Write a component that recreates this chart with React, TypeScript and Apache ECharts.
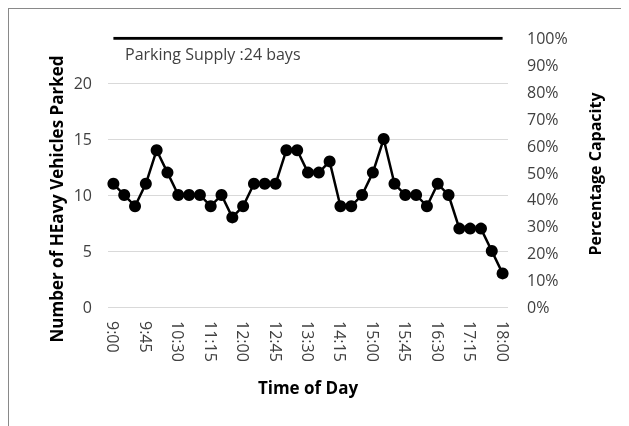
import React, { useEffect, useRef } from "react";
import * as echarts from "echarts";

const times = [
  "9:00", "9:15", "9:30", "9:45", "10:00", "10:15", "10:30", "10:45", "11:00", "11:15",
  "11:30", "11:45", "12:00", "12:15", "12:30", "12:45", "13:00", "13:15", "13:30", "13:45",
  "14:00", "14:15", "14:30", "14:45", "15:00", "15:15", "15:30", "15:45", "16:00", "16:15",
  "16:30", "16:45", "17:00", "17:15", "17:30", "17:45", "18:00",
];
const vehiclesParked = [
  11, 10, 9, 11, 14, 12, 10, 10, 10, 9,
  10, 8, 9, 11, 11, 11, 14, 14, 12, 12,
  13, 9, 9, 10, 12, 15, 11, 10, 10, 9,
  11, 10, 7, 7, 7, 5, 3,
];
const PARKING_SUPPLY = 24;
const supplyLabel = "Parking Supply :24 bays";
const leftTitle = "Number of HEavy Vehicles Parked";
const rightTitle = "Percentage Capacity";
const xTitle = "Time of Day";

const FONT = "'Open Sans', sans-serif";

export default function App() {
  const ref = useRef<HTMLDivElement>(null);
  useEffect(() => {
    if (!ref.current) return;
    const chart = echarts.init(ref.current, undefined, { renderer: "svg" });
    const supplyLine = times.map(() => PARKING_SUPPLY);
    chart.setOption({
      animation: false,
      textStyle: { fontFamily: FONT },
      grid: { left: 108, right: 121, top: 38.2, bottom: 119 },
      xAxis: {
        type: "category",
        data: times,
        boundaryGap: true,
        axisLine: { show: false },
        axisTick: { show: false },
        axisLabel: {
          interval: 2,
          rotate: -90,
          margin: 14,
          color: "#404040",
          fontSize: 16,
          fontFamily: FONT,
        },
      },
      yAxis: [
        {
          type: "value",
          min: 0,
          max: PARKING_SUPPLY,
          interval: 5,
          axisLine: { show: false },
          axisTick: { show: false },
          axisLabel: {
            margin: 16,
            color: "#404040",
            fontSize: 16,
            fontFamily: FONT,
            showMaxLabel: false,
          },
          splitLine: {
            lineStyle: {
              color: ["#d9d9d9", "#d9d9d9", "#d9d9d9", "#d9d9d9", "#d9d9d9", "rgba(0,0,0,0)"],
              width: 1,
            },
          },
        },
        {
          type: "value",
          min: 0,
          max: 100,
          interval: 10,
          position: "right",
          axisLine: { show: false },
          axisTick: { show: false },
          splitLine: { show: false },
          axisLabel: {
            margin: 19,
            color: "#404040",
            fontSize: 16,
            fontFamily: FONT,
            formatter: "{value}%",
          },
        },
      ],
      series: [
        {
          type: "line",
          data: supplyLine,
          yAxisIndex: 0,
          symbol: "none",
          lineStyle: { color: "#000", width: 3 },
          silent: true,
        },
        {
          type: "line",
          data: vehiclesParked,
          yAxisIndex: 0,
          symbol: "circle",
          symbolSize: 12,
          showAllSymbol: true,
          itemStyle: { color: "#000" },
          lineStyle: { color: "#000", width: 2.5 },
        },
      ],
      graphic: [
        {
          type: "text",
          left: 125,
          top: 46,
          style: { text: supplyLabel, fill: "#404040", font: `16px ${FONT}` },
        },
        {
          type: "text",
          x: 56,
          y: 199,
          rotation: Math.PI / 2,
          style: {
            text: leftTitle,
            fill: "#000",
            font: `bold 17px ${FONT}`,
            align: "center",
            verticalAlign: "middle",
          },
        },
        {
          type: "text",
          x: 595,
          y: 174,
          rotation: Math.PI / 2,
          style: {
            text: rightTitle,
            fill: "#000",
            font: `bold 16px ${FONT}`,
            align: "center",
            verticalAlign: "middle",
          },
        },
        {
          type: "text",
          x: 308,
          y: 387,
          style: {
            text: xTitle,
            fill: "#000",
            font: `bold 17px ${FONT}`,
            align: "center",
            verticalAlign: "middle",
          },
        },
      ],
    });
    return () => chart.dispose();
  }, []);
  return (
    <div>
      <div
        style={{
          boxSizing: "border-box",
          width: 621,
          height: 418,
          borderLeft: "1px solid #898989",
          borderTop: "1px solid #898989",
        }}
      />
      <div
        ref={ref}
        style={{ position: "fixed", left: 0, top: 0, width: 629, height: 426 }}
      />
    </div>
  );
}
